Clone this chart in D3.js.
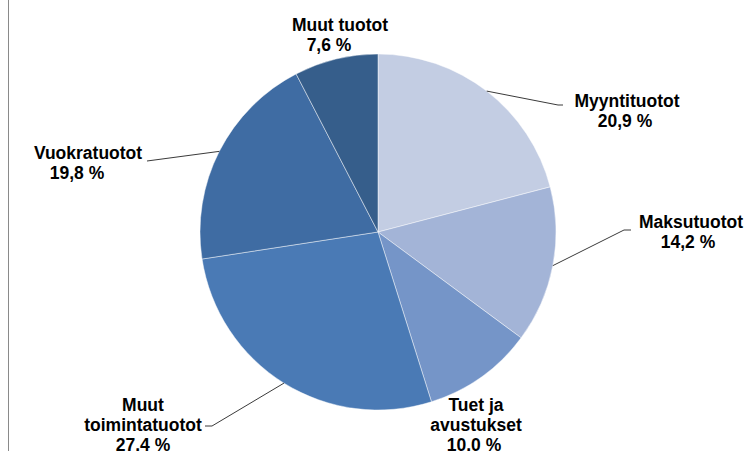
<!DOCTYPE html>
<html>
<head>
<meta charset="utf-8">
<script src="https://cdn.jsdelivr.net/npm/d3@7"></script>
<style>
  body { margin: 0; background: #fff; }
  svg { display: block; }
  .label { font-family: "Liberation Sans", Arial, sans-serif; font-weight: bold; font-size: 17.5px; fill: #000; }
</style>
</head>
<body>
<div id="chart"></div>
<script>
// data (clockwise from 12 o'clock)
var categories = ["Myyntituotot", "Maksutuotot", "Tuet ja avustukset", "Muut toimintatuotot", "Vuokratuotot", "Muut tuotot"];
var values = [20.9, 14.2, 10.0, 27.4, 19.8, 7.6];
var nameLines = [["Myyntituotot"], ["Maksutuotot"], ["Tuet ja", "avustukset"], ["Muut", "toimintatuotot"], ["Vuokratuotot"], ["Muut tuotot"]];
var pctLabels = ["20,9 %", "14,2 %", "10.0 %", "27.4 %", "19,8 %", "7,6 %"];
var colors = ["#c3cde3", "#a3b4d7", "#7595c8", "#4a7ab5", "#3f6ca3", "#365e8b"];

var width = 749,
  height = 451,
  cx = 378,
  cy = 232,
  radius = 178;

// label placement: centre x, first baseline, shift of the % line
var labelPos = [
  {x: 627, y: 107, pctDx: -2},
  {x: 691, y: 228, pctDx: -3},
  {x: 476, y: 411, pctDx: -2},
  {x: 143, y: 411, pctDx: 0},
  {x: 88, y: 159, pctDx: -11},
  {x: 340, y: 31, pctDx: -11}
];
// leader lines: elbow and end, null = no line
var leaders = [
  [[558, 105], [563, 105]],
  [[624, 230], [631, 230]],
  null,
  [[212, 426], [205, 426]],
  [[147, 161], [147, 161]],
  null
];

var svg = d3
  .select("#chart")
  .append("svg")
  .attr("width", width)
  .attr("height", height);

// left frame line
svg
  .append("line")
  .attr("x1", 8.5)
  .attr("x2", 8.5)
  .attr("y1", 0)
  .attr("y2", height)
  .attr("stroke", "#8a8a8a")
  .attr("stroke-width", 1);

var pie = d3
  .pie()
  .sort(null)
  .value(function(d) {
    return d;
  });

var arcs = pie(values);

var arc = d3
  .arc()
  .innerRadius(0)
  .outerRadius(radius);

var edgeArc = d3
  .arc()
  .innerRadius(radius)
  .outerRadius(radius);

var g = svg.append("g").attr("transform", "translate(" + cx + "," + cy + ")");

g.selectAll("path.slice")
  .data(arcs)
  .enter()
  .append("path")
  .attr("class", "slice")
  .attr("d", arc)
  .attr("fill", function(d, i) {
    return colors[i];
  })
  .attr("stroke", "rgba(255,255,255,0.6)")
  .attr("stroke-width", 0.75);

// leader lines
svg
  .selectAll("polyline.leader")
  .data(arcs.filter(function(d, i) {
    return leaders[i];
  }))
  .enter()
  .append("polyline")
  .attr("class", "leader")
  .attr("fill", "none")
  .attr("stroke", "#3a3a3a")
  .attr("stroke-width", 1)
  .attr("points", function(d) {
    var p = edgeArc.centroid(d);
    var l = leaders[d.index];
    return [[cx + p[0], cy + p[1]], l[0], l[1]].join(" ");
  });

// labels
var labels = svg
  .selectAll("text.label")
  .data(arcs)
  .enter()
  .append("text")
  .attr("class", "label")
  .attr("text-anchor", "middle");

labels.each(function(d, i) {
  var t = d3.select(this);
  var pos = labelPos[i];
  var lines = nameLines[i];
  lines.forEach(function(line, k) {
    t.append("tspan")
      .attr("x", pos.x)
      .attr("y", pos.y + k * 20)
      .text(line);
  });
  t.append("tspan")
    .attr("x", pos.x + pos.pctDx)
    .attr("y", pos.y + lines.length * 20)
    .text(pctLabels[i]);
});
</script>
</body>
</html>
